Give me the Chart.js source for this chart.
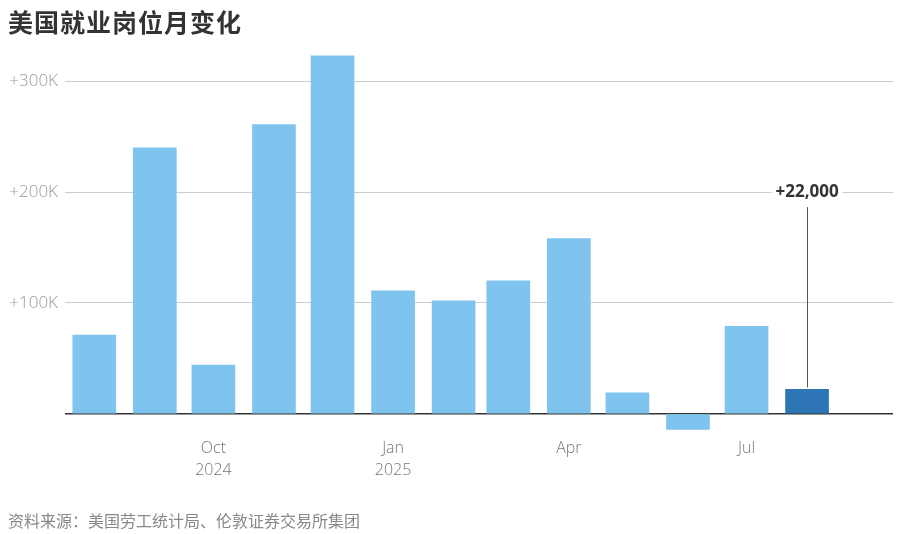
<!DOCTYPE html>
<html>
<head>
<meta charset="utf-8">
<script src="https://cdn.jsdelivr.net/npm/chart.js@4/dist/chart.umd.min.js"></script>
<style>
  html, body { margin: 0; padding: 0; background: #fff; }
  #wrap { position: relative; width: 903px; height: 534px; overflow: hidden; }
  #title { position: absolute; left: 8px; top: 3px; font-family: "Noto Sans CJK SC", sans-serif; font-weight: 700; font-size: 25px; color: #333; letter-spacing: 1px; }
  #source { position: absolute; left: 8px; top: 508px; font-family: "Noto Sans CJK SC", sans-serif; font-weight: 400; font-size: 16px; color: #888; }
  canvas { position: absolute; left: 0; top: 0; }
</style>
</head>
<body>
<div id="wrap">
  <canvas id="c" width="903" height="534"></canvas>
  <div id="title">美国就业岗位月变化</div>
  <div id="source">资料来源：美国劳工统计局、伦敦证券交易所集团</div>
</div>
<script>
// ---- data ----
const months = ["2024-08","2024-09","2024-10","2024-11","2024-12","2025-01","2025-02","2025-03","2025-04","2025-05","2025-06","2025-07","2025-08"];
const jobChanges = [71000, 240000, 44000, 261000, 323000, 111000, 102000, 120000, 158000, 19000, -14000, 79000, 22000];
const tickMonths = ["2024-10","2025-01","2025-04","2025-07"];
const tickLabels = [["Oct","2024"],["Jan","2025"],["Apr"],["Jul"]];
const yTickValues = [0, 100000, 200000, 300000];
const yTickLabels = ["", "+100K", "+200K", "+300K"];
const annotationText = "+22,000";

// ---- helpers ----
const DAY = 86400000;
function dayIndex(m) {
  const [y, mo] = m.split("-").map(Number);
  const [y0, m0] = months[0].split("-").map(Number);
  return Math.round((Date.UTC(y, mo - 1, 1) - Date.UTC(y0, m0 - 1, 1)) / DAY);
}
const points = months.map((m, i) => ({ x: dayIndex(m), y: jobChanges[i] }));
const lightBlue = "#7fc4ee";
const darkBlue = "#2e75b6";
const colors = jobChanges.map((v, i) => i === jobChanges.length - 1 ? darkBlue : lightBlue);

const annotationPlugin = {
  id: "anno",
  afterDatasetsDraw(chart) {
    const meta = chart.getDatasetMeta(0);
    const el = meta.data[meta.data.length - 1];
    const ys = chart.scales.y;
    const ctx = chart.ctx;
    const labelY = ys.getPixelForValue(200000);
    ctx.save();
    ctx.font = "700 17px 'Open Sans', sans-serif";
    const w = ctx.measureText(annotationText).width;
    ctx.fillStyle = "#fff";
    ctx.fillRect(el.x - w / 2 - 4, labelY - 10, w + 8, 20);
    ctx.fillStyle = "#333";
    ctx.textAlign = "center";
    ctx.textBaseline = "middle";
    ctx.fillText(annotationText, el.x, labelY);
    ctx.strokeStyle = "#555";
    ctx.lineWidth = 1;
    ctx.beginPath();
    ctx.moveTo(Math.round(el.x) + 0.5, labelY + 15);
    ctx.lineTo(Math.round(el.x) + 0.5, el.y - 2);
    ctx.stroke();
    ctx.restore();
  }
};

new Chart(document.getElementById("c"), {
  type: "bar",
  data: {
    datasets: [{
      data: points,
      backgroundColor: colors,
      barThickness: 43,
      borderWidth: 0
    }]
  },
  options: {
    responsive: false,
    animation: false,
    layout: { padding: { top: 48, right: 10, bottom: 0, left: 0 } },
    plugins: { legend: { display: false }, tooltip: { enabled: false } },
    scales: {
      x: {
        type: "linear",
        min: -15,
        max: 409,
        offset: false,
        border: { display: false },
        grid: { display: false, drawTicks: false },
        afterBuildTicks(scale) { scale.ticks = tickMonths.map(m => ({ value: dayIndex(m) })); },
        afterFit(scale) { scale.height = 98; },
        ticks: {
          autoSkip: false,
          maxRotation: 0,
          padding: 2,
          color: "#777",
          font: { family: "'Open Sans', sans-serif", size: 16, weight: 300, lineHeight: 1.35 },
          callback(value) {
            const idx = tickMonths.findIndex(m => dayIndex(m) === value);
            return idx >= 0 ? tickLabels[idx] : "";
          }
        }
      },
      y: {
        min: -20000,
        max: 330000,
        border: { display: false },
        afterBuildTicks(scale) { scale.ticks = yTickValues.map(v => ({ value: v })); },
        afterFit(scale) { scale.width = 65; },
        grid: {
          drawTicks: false,
          color: ctx => ctx.tick && ctx.tick.value === 0 ? "#333" : "#cccccc",
          lineWidth: ctx => ctx.tick && ctx.tick.value === 0 ? 1.5 : 1
        },
        ticks: {
          padding: 7,
          color: "#999",
          font: { family: "'Open Sans', sans-serif", size: 17, weight: 300 },
          callback(value) {
            const idx = yTickValues.indexOf(value);
            return idx >= 0 ? yTickLabels[idx] : "";
          }
        }
      }
    }
  },
  plugins: [annotationPlugin]
});
</script>
</body>
</html>
